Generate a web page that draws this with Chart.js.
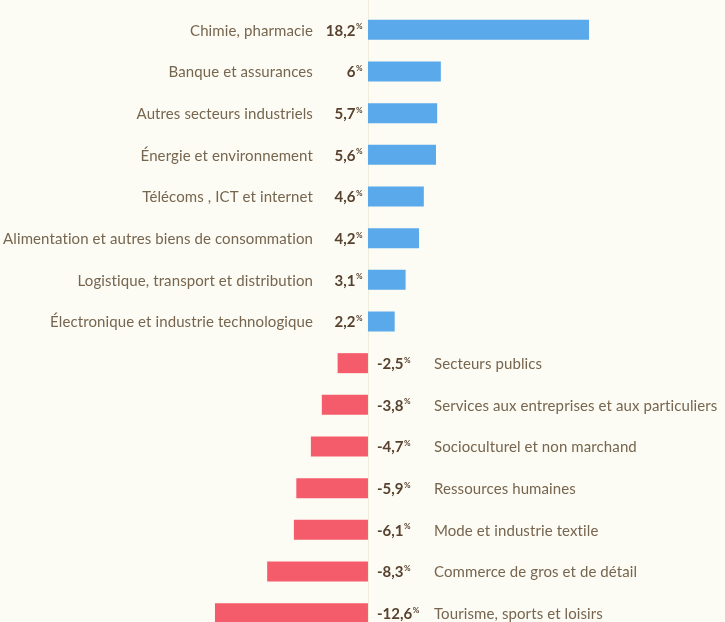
<!DOCTYPE html>
<html>
<head>
<meta charset="utf-8">
<script src="https://cdn.jsdelivr.net/npm/chart.js@4/dist/chart.umd.min.js"></script>
<style>
  html, body { margin: 0; padding: 0; background: #fdfcf4; overflow: hidden; }
  #wrap { width: 725px; height: 634px; }
</style>
</head>
<body>
<div id="wrap"><canvas id="chart" width="725" height="634"></canvas></div>
<script>
const categories = [
  "Chimie, pharmacie",
  "Banque et assurances",
  "Autres secteurs industriels",
  "Énergie et environnement",
  "Télécoms , ICT et internet",
  "Alimentation et autres biens de consommation",
  "Logistique, transport et distribution",
  "Électronique et industrie technologique",
  "Secteurs publics",
  "Services aux entreprises et aux particuliers",
  "Socioculturel et non marchand",
  "Ressources humaines",
  "Mode et industrie textile",
  "Commerce de gros et de détail",
  "Tourisme, sports et loisirs"
];
const values = [18.2, 6, 5.7, 5.6, 4.6, 4.2, 3.1, 2.2, -2.5, -3.8, -4.7, -5.9, -6.1, -8.3, -12.6];

const BLUE = "#5aa9ea";
const RED = "#f45c6b";
const TEXT = "#76654f";
const VALUE = "#57412f";
const FONT = "Lato";

function fmt(v) {
  return String(v).replace(".", ",");
}

// labels around the zero line
const labelPlugin = {
  id: "labels",
  beforeDatasetsDraw(chart) {
    const { ctx, scales } = chart;
    const x0 = scales.x.getPixelForValue(0);
    ctx.save();
    ctx.strokeStyle = "#f1ecdb";
    ctx.lineWidth = 1;
    ctx.beginPath();
    ctx.moveTo(x0 + 0.5, 0);
    ctx.lineTo(x0 + 0.5, chart.height);
    ctx.stroke();
    ctx.restore();
  },
  afterDatasetsDraw(chart) {
    const { ctx, scales } = chart;
    const x0 = scales.x.getPixelForValue(0);
    ctx.save();
    ctx.textBaseline = "middle";
    values.forEach((v, i) => {
      const y = scales.y.getPixelForValue(i);
      const num = fmt(v);
      ctx.letterSpacing = "0px";
      ctx.font = "bold 15px " + FONT;
      const nw = ctx.measureText(num).width;
      ctx.font = "bold 8px " + FONT;
      const pw = ctx.measureText("%").width;
      let vx;
      if (v >= 0) {
        vx = x0 - 6 - pw - nw;
      } else {
        vx = x0 + 9;
      }
      ctx.fillStyle = VALUE;
      ctx.textAlign = "left";
      ctx.font = "bold 15px " + FONT;
      ctx.fillText(num, vx, y + 1);
      ctx.font = "bold 8px " + FONT;
      ctx.fillText("%", vx + nw + 0.5, y - 3);

      ctx.font = "15px " + FONT;
      ctx.letterSpacing = "0.1px";
      ctx.fillStyle = TEXT;
      if (v >= 0) {
        ctx.textAlign = "right";
        ctx.fillText(categories[i], x0 - 55, y + 1);
      } else {
        ctx.textAlign = "left";
        ctx.fillText(categories[i], x0 + 66, y + 1);
      }
    });
    ctx.restore();
  }
};

new Chart(document.getElementById("chart"), {
  type: "bar",
  data: {
    labels: categories,
    datasets: [{
      data: values,
      backgroundColor: values.map(v => (v >= 0 ? BLUE : RED)),
      borderWidth: 0,
      categoryPercentage: 1,
      barPercentage: 0.48
    }]
  },
  options: {
    indexAxis: "y",
    responsive: false,
    animation: false,
    layout: { padding: { top: 9, bottom: 0, left: 0, right: 0 } },
    plugins: { legend: { display: false }, tooltip: { enabled: false } },
    scales: {
      x: { display: false, min: -30.3, max: 29.4 },
      y: { display: false }
    }
  },
  plugins: [labelPlugin]
});
</script>
</body>
</html>
